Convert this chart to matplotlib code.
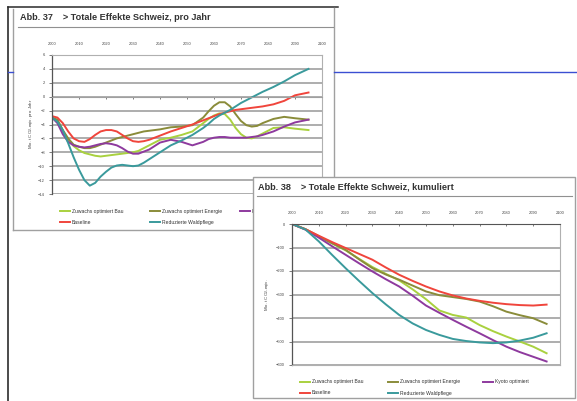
import numpy as np
import matplotlib.pyplot as plt
from matplotlib.lines import Line2D
from matplotlib.patches import Rectangle

plt.rcParams['font.family'] = ['Liberation Sans', 'DejaVu Sans']

W, H = 577, 401

# Abb. 37: jaehrliche Effekte (Mio. t CO2-eqiv. pro Jahr)
jahre = [2000, 2002, 2004, 2006, 2008, 2010, 2012, 2014, 2016, 2018, 2020, 2022, 2024,
         2026, 2028, 2030, 2032, 2034, 2036, 2040, 2044, 2048, 2052, 2056, 2058, 2060,
         2062, 2064, 2066, 2068, 2070, 2072, 2074, 2076, 2078, 2082, 2086, 2090, 2095]
bau_jahr = [-3.0, -3.4, -4.9, -6.2, -7.1, -7.7, -8.1, -8.3, -8.5, -8.6, -8.5, -8.4, -8.3,
            -8.2, -8.1, -8.0, -7.8, -7.4, -7.0, -6.2, -5.9, -5.5, -5.0, -3.8, -3.2, -2.7,
            -2.4, -2.5, -3.3, -4.5, -5.4, -5.9, -6.0, -5.7, -5.3, -4.5, -4.4, -4.6, -4.8]
energie_jahr = [-3.0, -3.3, -4.8, -6.0, -6.9, -7.2, -7.4, -7.4, -7.2, -6.9, -6.6, -6.3, -6.0,
                -5.8, -5.6, -5.4, -5.2, -5.0, -4.9, -4.7, -4.4, -4.3, -4.1, -3.0, -2.1, -1.3,
                -0.8, -0.8, -1.4, -2.5, -3.5, -4.1, -4.3, -4.2, -3.8, -3.2, -2.9, -3.1, -3.3]
kyoto_jahr = [-3.0, -3.8, -5.4, -6.5, -7.0, -7.2, -7.3, -7.2, -7.0, -6.8, -6.7, -6.8, -7.0,
              -7.4, -7.9, -8.2, -8.2, -7.9, -7.6, -6.6, -6.2, -6.5, -7.0, -6.5, -6.1, -5.9,
              -5.8, -5.8, -5.9, -5.9, -5.9, -5.9, -5.8, -5.7, -5.5, -5.0, -4.3, -3.7, -3.3]
baseline_jahr = [-2.8, -3.0, -3.8, -5.0, -6.0, -6.4, -6.5, -6.1, -5.5, -5.0, -4.8, -4.8, -5.0,
                 -5.5, -6.0, -6.4, -6.5, -6.4, -6.2, -5.6, -5.0, -4.5, -4.0, -3.4, -3.1, -2.8,
                 -2.5, -2.3, -2.1, -1.9, -1.8, -1.7, -1.6, -1.5, -1.4, -1.1, -0.6, 0.2, 0.6]
wald_jahr = [-3.0, -3.6, -4.8, -6.7, -8.7, -10.5, -12.0, -12.8, -12.4, -11.5, -10.8, -10.2,
             -9.9, -9.8, -9.9, -10.0, -9.9, -9.5, -9.0, -8.0, -7.0, -6.3, -5.5, -4.5, -3.9,
             -3.2, -2.7, -2.3, -1.9, -1.4, -0.9, -0.5, -0.1, 0.3, 0.7, 1.4, 2.2, 3.1, 4.0]

# Abb. 38: kumulierte Effekte (Mio. t CO2-eqiv.)
jahre_kum = list(range(2000, 2096, 5))
bau_kum = [0, -22, -53, -83, -112, -148, -183, -212, -240, -278, -320, -368, -387, -398,
           -430, -456, -479, -500, -522, -550]
energie_kum = [0, -22, -52, -82, -110, -150, -188, -215, -237, -262, -287, -303, -311, -319,
               -330, -350, -373, -388, -401, -425]
kyoto_kum = [0, -24, -58, -95, -131, -167, -202, -235, -266, -305, -347, -378, -408, -437,
             -465, -494, -522, -545, -565, -585]
baseline_kum = [0, -22, -50, -77, -102, -127, -152, -185, -216, -242, -266, -287, -304, -317,
                -327, -335, -341, -345, -347, -343]
wald_kum = [0, -23, -74, -132, -188, -242, -294, -342, -387, -423, -451, -472, -489, -498,
            -504, -507, -504, -496, -484, -465]

namen = ['Zuwachs optimiert Bau', 'Zuwachs optimiert Energie', 'Kyoto optimiert',
         'Baseline', 'Reduzierte Waldpflege']
farben = ['#a9d13f', '#8a8c3a', '#8e3a9e', '#f0453c', '#3a9a9c']

grid_col = '#a0a0a0'
tick_col = '#666666'


def fx(x):
    return x / W


def fy(y):
    return 1 - y / H


def fig_line(fig, xs, ys, color, lw, z):
    fig.add_artist(Line2D([fx(x) for x in xs], [fy(y) for y in ys],
                          transform=fig.transFigure, color=color, lw=lw, zorder=z))


def legende(fig, x0, y0, dx, z):
    pos = [(x0, y0), (x0 + dx[0], y0), (x0 + dx[1], y0), (x0, y0 + 11), (x0 + dx[0], y0 + 11)]
    for (x, y), name, col in zip(pos, namen, farben):
        fig_line(fig, [x, x + 10], [y, y], col, 1.4, z)
        fig.text(fx(x + 12), fy(y), name, fontsize=3.6, color='#333333',
                 va='center', ha='left', zorder=z)


def achse(ax, y_ticks):
    ax.set_xlim(2000, 2100)
    ax.set_yticks(y_ticks)
    ax.grid(axis='y', color=grid_col, lw=1.2)
    ax.set_axisbelow(True)
    for s in ['top', 'right', 'bottom']:
        ax.spines[s].set_color('#b0b0b0')
        ax.spines[s].set_linewidth(0.8)
    ax.spines['left'].set_color('#555555')
    ax.spines['left'].set_linewidth(0.9)
    ax.tick_params(axis='y', length=2, width=0.6, color=tick_col, labelsize=2.9,
                   labelcolor='#444444', pad=3)


fig = plt.figure(figsize=(W / 100, H / 100), dpi=100)

# Seitenrahmen und blaue Linie
fig_line(fig, [8, 8], [7, 401], '#1a1a1a', 1.1, 1)
fig_line(fig, [8, 338], [7, 7], '#2a2a2a', 1.1, 1)
fig_line(fig, [334, 334], [8, 177], '#a0a0a0', 1.0, 1)
fig_line(fig, [13, 13], [9, 230], '#a0a0a0', 1.0, 1)
fig_line(fig, [13, 253], [230, 230], '#a0a0a0', 1.0, 1)
fig_line(fig, [8, 13], [72, 72], '#3b4fd2', 1.0, 1)
fig_line(fig, [334, 577], [72, 72], '#3b4fd2', 1.0, 1)

# ---- Abb. 37 ----
fig.text(fx(20), fy(17), 'Abb. 37    > Totale Effekte Schweiz, pro Jahr', fontsize=6.6,
         fontweight='bold', color='#333333', va='center', ha='left',
         family=['Liberation Sans Narrow', 'Liberation Sans'])
fig_line(fig, [18, 333], [27, 27], '#909090', 0.8, 1)

ax1 = fig.add_axes([fx(52), fy(194), (322 - 52) / W, (194 - 55) / H])
ax1.set_zorder(0)
for name, col, werte in zip(namen, farben,
                            [bau_jahr, energie_jahr, kyoto_jahr, baseline_jahr, wald_jahr]):
    ax1.plot(jahre, werte, color=col, lw=1.4, solid_joinstyle='round', label=name)
ax1.set_ylim(-14, 6)
achse(ax1, range(-14, 7, 2))
ax1.spines['bottom'].set_position(('data', 0))
ax1.spines['bottom'].set_color(grid_col)
ax1.set_xticks(range(2000, 2101, 10))
ax1.tick_params(axis='x', direction='out', length=1.5, width=0.6, color=tick_col,
                labelbottom=False)
top1 = ax1.secondary_xaxis('top')
top1.set_xticks(range(2000, 2101, 10))
top1.tick_params(length=0, labelsize=2.9, labelcolor='#444444', pad=6.5)
top1.spines['top'].set_visible(False)
fig.text(fx(31), fy(124), 'Mio. t CO$_2$-eqiv. pro Jahr', rotation=90, fontsize=3.2,
         color='#444444', va='center', ha='center')
legende(fig, 60, 211, (90, 180), 1)

# ---- Abb. 38 ----
fig.add_artist(Rectangle((fx(253), fy(398)), (575 - 253) / W, (398 - 177) / H,
                         transform=fig.transFigure, facecolor='white',
                         edgecolor='#a0a0a0', lw=1.0, zorder=2))
fig.text(fx(258), fy(187), 'Abb. 38    > Totale Effekte Schweiz, kumuliert', fontsize=6.6,
         fontweight='bold', color='#333333', va='center', ha='left', zorder=4,
         family=['Liberation Sans Narrow', 'Liberation Sans'])
fig_line(fig, [257, 572], [196, 196], '#909090', 0.8, 4)

ax2 = fig.add_axes([fx(292), fy(365), (560 - 292) / W, (365 - 224) / H])
ax2.set_zorder(3)
for name, col, werte in zip(namen, farben,
                            [bau_kum, energie_kum, kyoto_kum, baseline_kum, wald_kum]):
    ax2.plot(jahre_kum, werte, color=col, lw=1.4, solid_joinstyle='round', label=name)
ax2.set_ylim(-600, 0)
achse(ax2, range(-600, 1, 100))
ax2.spines['top'].set_color('#555555')
ax2.set_xticks(range(2000, 2101, 10))
ax2.xaxis.tick_top()
ax2.tick_params(axis='x', direction='in', length=1.5, width=0.6, color=tick_col,
                labelsize=2.9, labelcolor='#444444', pad=6.5)
fig.text(fx(267), fy(295), 'Mio. t CO$_2$-eqiv.', rotation=90, fontsize=3.2,
         color='#444444', va='center', ha='center', zorder=4)
legende(fig, 300, 382, (88, 183), 4)

fig.savefig('out.png', dpi=100)
